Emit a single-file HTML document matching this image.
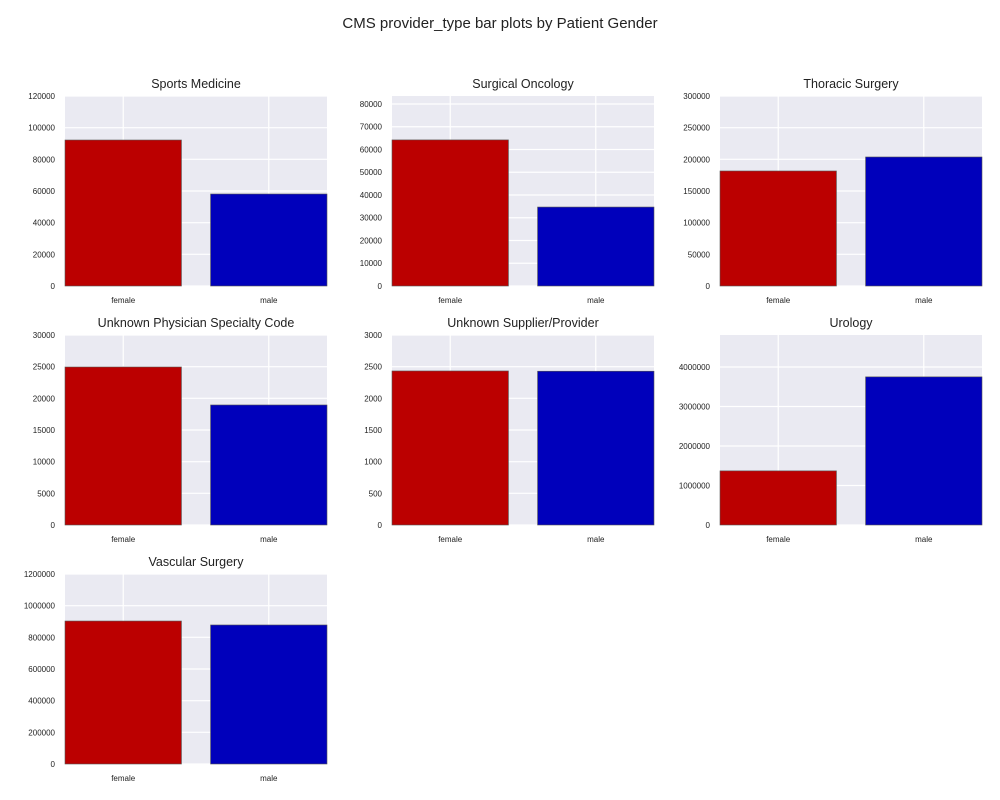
<!DOCTYPE html>
<html><head><meta charset="utf-8"><style>
body{margin:0;background:#fff;}
svg{display:block;font-family:"Liberation Sans",Arial,sans-serif;}
</style></head><body>
<svg id="chart" width="1000" height="800">
<text x="500" y="28" text-anchor="middle" font-size="15" fill="#222">CMS provider_type bar plots by Patient Gender</text>
</svg>
<script>
const titles = ["Sports Medicine","Surgical Oncology","Thoracic Surgery","Unknown Physician Specialty Code","Unknown Supplier/Provider","Urology","Vascular Surgery"];
const categories = ["female","male"];
const femaleValues = [92200, 64200, 181600, 24950, 2432, 1370000, 903000];
const maleValues = [58100, 34700, 203700, 18950, 2428, 3750000, 878000];
const yMaxes = [120000, 83500, 300000, 30000, 3000, 4810000, 1200000];
const yTicks = [
 [0,20000,40000,60000,80000,100000,120000],
 [0,10000,20000,30000,40000,50000,60000,70000,80000],
 [0,50000,100000,150000,200000,250000,300000],
 [0,5000,10000,15000,20000,25000,30000],
 [0,500,1000,1500,2000,2500,3000],
 [0,1000000,2000000,3000000,4000000],
 [0,200000,400000,600000,800000,1000000,1200000]
];
const colors = ["#bb0000","#0000bb"];
const NS="http://www.w3.org/2000/svg";
const svg=document.getElementById('chart');
function mk(tag,attrs,parent){const e=document.createElementNS(NS,tag);for(const k in attrs)e.setAttribute(k,attrs[k]);(parent||svg).appendChild(e);return e;}
const colX=[65,392,720], rowY=[96,335,574], W=262, H=190;
titles.forEach((t,i)=>{
  const x0=colX[i%3], y0=rowY[Math.floor(i/3)];
  const g=mk('g',{});
  
  
  const xs=v=>x0+v/1.8*W;
  const ys=v=>y0+H-v/yMaxes[i]*H;
  const bg=mk('rect',{x:x0,y:y0,width:W,height:H,fill:'#eaeaf2'},g);
  
  
  yTicks[i].forEach(tv=>{
    const y=ys(tv);
    const gl=mk('line',{x1:x0,x2:x0+W,y1:y,y2:y,stroke:'#fff','stroke-width':1.2},g);
    
    
    const tl=mk('text',{x:x0-10,y:y+3,'text-anchor':'end','font-size':8,fill:'#222'},g);
    tl.textContent=tv;
    
    
  });
  categories.forEach((c,j)=>{
    const cx=xs(j+0.4);
    const gl=mk('line',{x1:cx,x2:cx,y1:y0,y2:y0+H,stroke:'#fff','stroke-width':1.2},g);
    
    
  });
  const vals=[femaleValues[i],maleValues[i]];
  categories.forEach((c,j)=>{
    const bx=xs(j), bw=xs(j+0.8)-bx, by=ys(vals[j]);
    const b=mk('rect',{x:bx,y:by,width:Math.min(bw,x0+W-bx),height:y0+H-by,fill:colors[j],stroke:'#555','stroke-width':0.6},g);
    
    
    const lt=mk('text',{x:xs(j+0.4),y:y0+H+17,'text-anchor':'middle','font-size':8,fill:'#222'},g);
    lt.textContent=c;
    
    
  });
  const tt=mk('text',{x:x0+W/2,y:y0-8,'text-anchor':'middle','font-size':12.5,fill:'#222'},g);
  tt.textContent=t;
  
  
});
</script>
</body></html>
